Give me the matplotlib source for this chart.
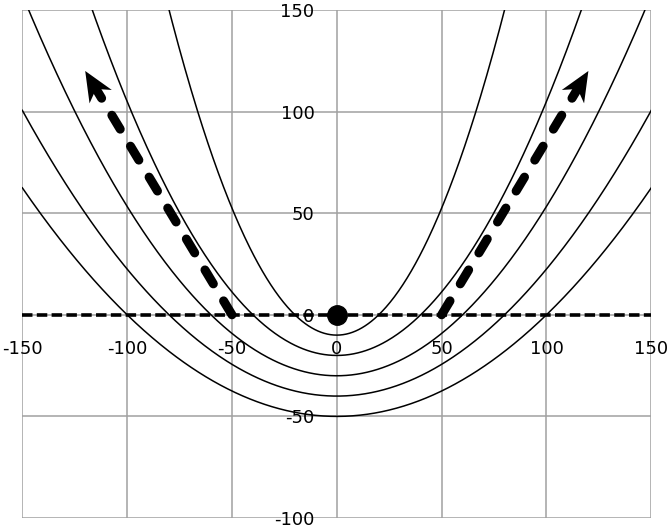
import numpy as np
import matplotlib
matplotlib.use('Agg')
import matplotlib.pyplot as plt
from matplotlib.patches import Polygon

plt.rcParams['font.family'] = 'DejaVu Sans'
plt.rcParams['axes.unicode_minus'] = False

# data
focal = [10, 20, 30, 40, 50]          # parabolas y = x^2/(4f) - f, focus at origin
x_ticks = [-150, -100, -50, 0, 50, 100, 150]
y_ticks = [-100, -50, 0, 50, 100, 150]
arrow_starts = [(-50, 0), (50, 0)]
arrow_tips = [(-120, 120), (120, 120)]
focus = (0, 0)

fig = plt.figure(figsize=(6.71, 5.28), dpi=100)
ax = fig.add_axes([22.3/671, 10/528, 629/671, 508/528])
ax.set_xlim(-150, 150)
ax.set_ylim(-100, 150)

grey = '#a0a0a0'
ax.set_xticks(x_ticks)
ax.set_yticks(y_ticks)
ax.grid(True, color=grey, lw=1.1)
for ln in ax.get_xgridlines() + ax.get_ygridlines():
    ln.set_clip_on(False)
ax.spines['left'].set_position(('data', 0))
ax.spines['bottom'].set_position(('data', 0))
for s in ax.spines.values():
    s.set_visible(False)
ax.tick_params(length=0, labelsize=13)
ax.tick_params(axis='x', pad=18)
ax.tick_params(axis='y', pad=16)
for lab in ax.get_xticklabels() + ax.get_yticklabels():
    lab.set_clip_on(False)

xs = np.linspace(-150, 150, 601)
for f in focal:
    ax.plot(xs, xs**2 / (4*f) - f, color='k', lw=1.1)

ax.plot([-150, 150], [0, 0], color='k', lw=2.6, ls=(0, (2.9, 1.2)))

# dashed arrows, head built in pixel space so it keeps its shape
to_px = ax.transData.transform
to_data = ax.transData.inverted().transform
for p0, p1 in zip(arrow_starts, arrow_tips):
    a = to_px(p0)
    t = to_px(p1)
    u = (t - a) / np.hypot(*(t - a))
    n = np.array([-u[1], u[0]])
    notch = t - 21*u
    head = [t, t - 30*u + 13*n, notch, t - 30*u - 13*n]
    ax.add_patch(Polygon(to_data(np.array(head)), closed=True, color='k', lw=0))
    end = to_data(notch - 2*u)
    ax.plot([p0[0], end[0]], [p0[1], end[1]], color='k', lw=6.5, ls=(0, (1.8, 2.2)),
            dash_capstyle='round', solid_capstyle='round')

ax.plot(*focus, 'o', color='k', ms=14, zorder=5)

fig.savefig('out.png', dpi=100)
